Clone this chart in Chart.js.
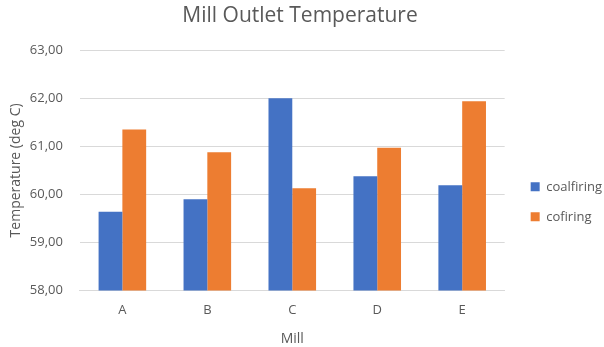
<!DOCTYPE html>
<html>
<head>
<meta charset="utf-8">
<script src="https://cdn.jsdelivr.net/npm/chart.js@4/dist/chart.umd.min.js"></script>
<style>
  html, body { margin: 0; padding: 0; background: #ffffff; }
  #wrap { width: 604px; height: 347px; }
</style>
</head>
<body>
<div id="wrap"><canvas id="chart" width="604" height="347"></canvas></div>
<script>
// Mill outlet temperatures (deg C) per mill
const mills = ['A', 'B', 'C', 'D', 'E'];
const coalfiring = [59.64, 59.90, 62.00, 60.38, 60.19];
const cofiring = [61.35, 60.88, 60.13, 60.97, 61.94];
const yTickValues = [58, 59, 60, 61, 62, 63];

const textColor = '#595959';
const gridColor = '#d9d9d9';
const fontFamily = '"Open Sans", sans-serif';

// Empty layout box that keeps some white space between the plot and the legend
const legendGap = {
  id: 'legendGap',
  beforeInit(chart) {
    Chart.layouts.addBox(chart, {
      position: 'right',
      weight: 500,
      fullSize: false,
      options: {},
      isHorizontal() { return false; },
      getPadding() { return { left: 0, right: 0, top: 0, bottom: 0 }; },
      update(maxWidth, maxHeight) { this.width = 9; this.height = maxHeight; },
      draw() {}
    });
  }
};

new Chart(document.getElementById('chart'), {
  type: 'bar',
  data: {
    labels: mills,
    datasets: [
      { label: 'coalfiring', data: coalfiring, backgroundColor: '#4472c4', borderWidth: 0 },
      { label: 'cofiring', data: cofiring, backgroundColor: '#ed7d31', borderWidth: 0 }
    ]
  },
  plugins: [legendGap],
  options: {
    responsive: false,
    animation: false,
    layout: { padding: { top: 3, right: -8, bottom: 0, left: -12 } },
    datasets: { bar: { barPercentage: 1, categoryPercentage: 0.56 } },
    plugins: {
      title: {
        display: true,
        text: 'Mill Outlet Temperature',
        color: textColor,
        font: { family: fontFamily, size: 21, weight: 'normal' },
        padding: { top: 0, bottom: 22 }
      },
      legend: {
        position: 'right',
        title: {
          // blank title: lowers the centred legend items
          display: true,
          text: ' ',
          font: { family: fontFamily, size: 13 },
          padding: { top: 0, bottom: 38 }
        },
        labels: {
          color: textColor,
          boxWidth: 9,
          boxHeight: 9,
          padding: 17,
          font: { family: fontFamily, size: 13 }
        }
      },
      tooltip: { enabled: false }
    },
    scales: {
      x: {
        grid: { display: false, drawTicks: false },
        border: { color: gridColor },
        ticks: { color: textColor, font: { family: fontFamily, size: 13 }, padding: 12 },
        title: {
          display: true,
          text: 'Mill',
          color: textColor,
          font: { family: fontFamily, size: 14 },
          padding: { top: 0, bottom: 0 }
        }
      },
      y: {
        min: 58,
        max: 63,
        afterBuildTicks: (axis) => { axis.ticks = yTickValues.map(v => ({ value: v })); },
        grid: { color: gridColor, drawTicks: false },
        border: { display: false },
        ticks: {
          color: textColor,
          padding: 17,
          font: { family: fontFamily, size: 13 },
          callback: (v) => Number(v).toFixed(2).replace('.', ',')
        },
        title: {
          display: true,
          text: 'Temperature (deg C)',
          color: textColor,
          font: { family: fontFamily, size: 14 },
          padding: { top: 20, bottom: -12 }
        }
      }
    }
  }
});
</script>
</body>
</html>
